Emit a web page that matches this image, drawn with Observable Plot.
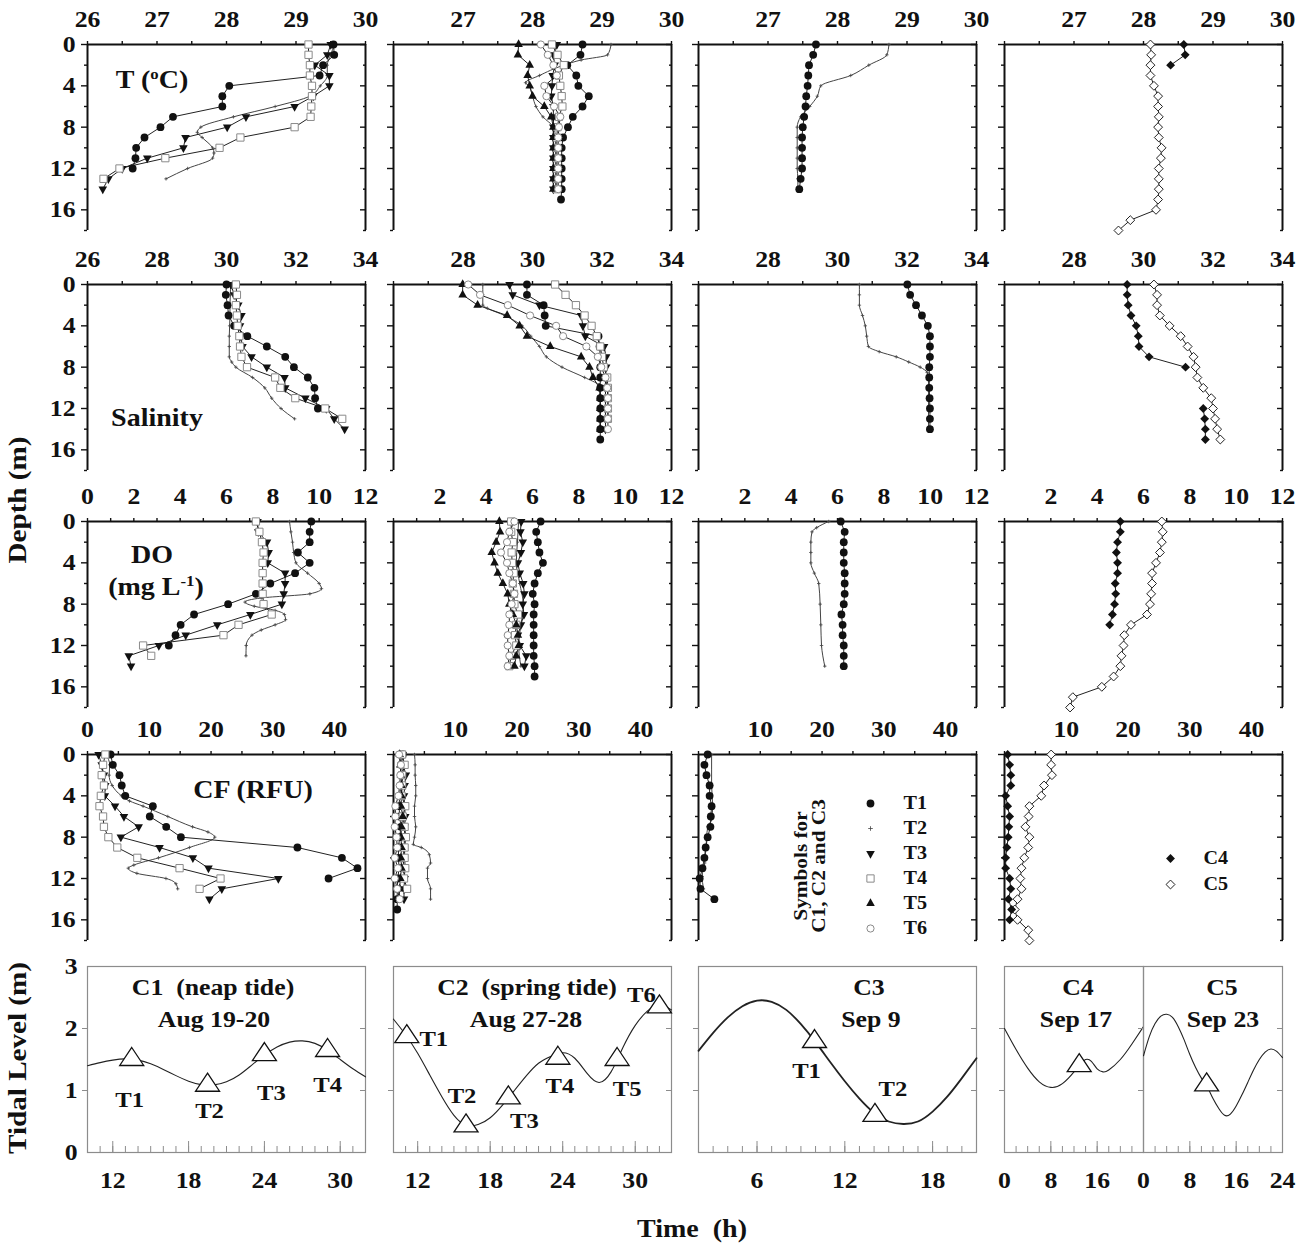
<!DOCTYPE html>
<html>
<head>
<meta charset="utf-8">
<script src="https://cdn.jsdelivr.net/npm/d3@7"></script>
<script src="https://cdn.jsdelivr.net/npm/@observablehq/plot@0.6"></script>
<style>
  html, body { margin:0; padding:0; background:#fff; }
  #fig { position:relative; width:1303px; height:1243px; overflow:hidden; background:#fff;
         font-family:"Liberation Serif","Times New Roman",serif; font-weight:bold; color:#111; }
  .lbl { position:absolute; white-space:pre; line-height:1; }
  .lbl sup { font-size:0.6em; vertical-align:0.6em; line-height:0; }
</style>
</head>
<body>
<div id="fig"></div>
<script>
// ===================== DATA =====================
// ---- Row 1: Temperature (°C); index = depth (m) unless a depth array is given ----
const tempC1T1 = [29.54,29.55,29.39,29.34,28.04,27.94,27.94,27.23,27.05,26.82,26.70,26.69,26.65];
const tempC1T2Depth = [0,1,2,3,4,5,6,7,8,8.5,9,10,10.5,11,12,13];
const tempC1T2 = [29.55,29.5,29.45,29.45,29.35,29.2,28.7,28.1,27.63,27.58,27.65,27.8,27.82,27.8,27.44,27.13];
const tempC1T3 = [29.5,29.45,29.27,29.48,29.48,29.25,28.98,28.28,28.01,27.41,27.38,26.86,26.5,26.3,26.22];
const tempC1T4 = [29.18,29.18,29.2,29.2,29.23,29.23,29.22,29.21,28.98,28.2,27.9,27.12,26.46,26.23];

const tempC2T1 = [28.72,28.69,28.5,28.63,28.66,28.81,28.72,28.58,28.51,28.44,28.42,28.42,28.42,28.42,28.42,28.41];
const tempC2T2Depth = [0,1,1.5,2,3,3.7,4,5,6,7,8,9,10,11,12,13,14];
const tempC2T2 = [29.13,29.08,28.7,28.45,28.1,27.9,27.95,28.0,28.05,28.15,28.3,28.33,28.33,28.33,28.33,28.33,28.33];
const tempC2T3 = [28.35,28.3,28.32,28.29,28.28,28.27,28.3,28.3,28.3,28.3,28.3,28.3,28.3,28.3,28.3];
const tempC2T4 = [28.28,28.36,28.45,28.38,28.4,28.42,28.43,28.38,28.36,28.35,28.35,28.35,28.35,28.35,28.35];
const tempC2T5 = [27.8,27.79,27.96,27.93,27.96,28.0,28.17,28.27,28.3,28.3,28.3,28.3,28.3,28.3,28.3];
const tempC2T6 = [28.12,28.22,28.3,28.35,28.17,28.2,28.31,28.4,28.38,28.37,28.37,28.37,28.37,28.37,28.37];

const tempC3T1 = [27.69,27.65,27.59,27.58,27.57,27.55,27.54,27.52,27.5,27.49,27.49,27.49,27.49,27.47,27.45];
const tempC3T2Depth = [0,1,2,3,4,5,6,7,8,9,10,11,12,13,14];
const tempC3T2 = [28.74,28.71,28.45,28.19,27.76,27.71,27.6,27.47,27.42,27.42,27.42,27.42,27.42,27.43,27.43];

const tempC4 = [28.58,28.6,28.39];
const tempC5 = [28.1,28.11,28.1,28.1,28.15,28.21,28.21,28.22,28.21,28.22,28.26,28.25,28.22,28.22,28.22,28.21,28.18,27.81,27.64];

// ---- Row 2: Salinity ----
const salC1T1 = [30.0,29.98,30.03,30.06,30.22,30.6,31.16,31.69,31.94,32.34,32.53,32.55,32.63];
const salC1T2Depth = [0,1,2,3,4,5,6,7,7.5,8,9,10,11,12,13];
const salC1T2 = [30.12,30.11,30.1,30.1,30.09,30.08,30.08,30.08,30.15,30.27,30.75,31.1,31.3,31.57,31.96];
const salC1T3 = [30.13,30.22,30.34,30.43,30.39,30.41,30.46,30.72,31.16,31.67,31.69,32.27,32.87,33.1,33.4];
const salC1T4 = [30.27,30.3,30.27,30.3,30.32,30.37,30.39,30.43,30.59,31.4,31.55,31.98,32.84,33.33];

const salC2T1 = [29.84,29.84,30.32,30.35,30.38,31.9,31.93,31.95,31.95,31.95,31.95,31.95,31.95,31.95,31.95,31.95];
const salC2T2Depth = [0,1,2,2.3,3,4,5,6,7,8,9,9.7,10,11,12,13,14];
const salC2T2 = [28.57,28.57,28.57,28.7,29.2,29.7,29.95,30.2,30.4,30.85,31.5,31.9,31.95,31.95,31.95,31.95,31.95];
const salC2T3 = [29.34,29.43,30.2,31.4,31.45,31.52,32.06,32.12,32.12,32.1,32.1,32.1,32.1,32.1,32.1];
const salC2T4 = [30.65,30.95,31.25,31.5,31.7,31.85,31.95,32.0,32.05,32.15,32.17,32.17,32.17,32.17];
const salC2T5 = [27.99,27.99,28.42,29.27,29.63,29.84,30.51,31.4,31.64,31.74,31.93,31.95,31.95,31.95,31.95];
const salC2T6 = [28.15,28.49,29.29,29.93,30.68,30.88,31.55,31.88,31.98,32.1,32.15,32.17,32.17,32.17,32.17];

const salC3T1 = [32.01,32.09,32.26,32.43,32.6,32.66,32.66,32.66,32.64,32.64,32.64,32.65,32.66,32.66,32.66];
const salC3T2Depth = [0,1,2,3,4,5,6,6.5,7,7.5,8,8.5,9,10,11,12,13,14];
const salC3T2 = [30.63,30.63,30.63,30.72,30.8,30.84,30.89,31.2,31.69,32.05,32.38,32.58,32.62,32.62,32.62,32.62,32.62,32.62];

const salC4 = [29.53,29.53,29.56,29.64,29.79,29.85,29.87,30.16,31.21,null,null,null,31.72,31.76,31.78,31.78];
const salC5 = [30.3,30.39,30.39,30.47,30.75,31.07,31.27,31.44,31.5,31.55,31.72,31.95,32.0,32.06,32.12,32.21];

// ---- Row 3: DO (mg/L) ----
const doC1T1 = [9.66,9.59,9.59,9.08,9.59,8.96,7.89,7.27,6.07,4.6,4.02,3.8,3.51];
const doC1T2Depth = [0,1,2,3,4,5,6,6.5,7,7.4,7.8,8.2,8.6,9,9.5,10,10.5,11,12,13];
const doC1T2 = [8.72,8.78,8.85,8.9,9.0,9.5,10.0,10.1,9.6,7.5,6.8,7.2,8.1,8.5,8.55,8.1,7.5,7.1,6.85,6.84];
const doC1T3 = [7.34,7.37,7.75,7.82,7.78,8.53,8.53,8.47,8.39,7.03,5.6,4.24,3.08,1.78,1.88];
const doC1T4 = [7.27,7.42,7.53,7.6,7.56,7.56,7.56,7.56,7.6,7.95,6.52,5.87,2.4,2.75];

const doC2T1 = [6.35,6.16,6.23,6.3,6.45,6.23,6.09,6.01,6.09,6.05,6.05,6.05,6.05,6.05,6.09,6.09];
const doC2T2Depth = [0,2,4,6,8,10,12,14];
const doC2T2 = [5.4,5.35,5.3,5.45,5.6,5.5,5.4,5.5];
const doC2T3 = [5.51,5.48,5.58,5.5,5.37,5.45,5.6,5.65,5.58,5.63,5.5,5.37,5.45,5.73,5.65];
const doC2T4 = [5.08,5.08,5.15,5.1,5.12,5.19,5.15,5.2,5.22,5.37,5.3,5.25,5.3,5.08,5.0];
const doC2T5 = [4.57,4.6,4.43,4.24,4.36,4.5,4.72,4.93,5.0,5.15,5.3,5.37,5.41,5.3,5.22];
const doC2T6 = [5.22,5.0,4.9,4.64,4.9,5.0,5.15,5.22,5.1,5.0,5.0,4.93,4.93,5.0,4.93];

const doC3T1 = [6.14,6.31,6.27,6.27,6.27,6.31,6.31,6.31,6.27,6.17,6.22,6.22,6.27,6.27,6.27];
const doC3T2Depth = [0,0.6,1,2,3,4,5,6,8,10,12,14];
const doC3T2 = [5.62,5.1,4.9,4.85,4.85,4.85,5.0,5.19,5.25,5.28,5.31,5.45];

const doC4 = [5.0,5.0,4.88,4.83,4.88,4.88,4.78,4.8,4.75,4.66,4.54];
const doC5 = [6.79,6.83,6.79,6.71,6.54,6.37,6.37,6.33,6.28,6.15,5.46,5.17,5.14,5.05,5.0,4.71,4.2,2.95,2.83];

// ---- Row 4: CF (RFU) ----
const cfC1T1 = [3.74,4.1,5.18,5.54,6.12,10.58,10.08,12.74,15.12,33.98,41.18,43.7,39.02];
const cfC1T2Depth = [0,1,2,3,4,4.5,5,6,7,7.5,8,9,10,10.7,11,11.5,12,12.5,13];
const cfC1T2 = [3.0,3.6,3.5,4.0,5.5,6.8,9.0,13.0,17.0,19.5,20.6,16.5,11.5,7.5,6.6,8.0,12.7,14.3,14.6];
const cfC1T3 = [1.8,2.3,2.66,2.88,2.8,4.46,5.9,8.28,5.4,11.66,17.06,19.58,30.89,21.74,19.73];
const cfC1T4 = [2.88,2.52,2.3,2.66,2.16,1.94,2.52,2.66,3.38,4.82,8.06,14.9,21.53,18.14];

const cfC2T1 = [1.5,1.2,1.6,1.2,1.0,0.9,1.0,1.2,1.0,0.8,0.8,0.9,0.7,0.6,0.6,0.6];
const cfC2T2Depth = [0,1,2,3,4,5,6,7,8,8.7,9,9.7,10.5,11,12,13,14];
const cfC2T2 = [3.4,3.5,3.5,3.6,3.6,3.4,3.4,3.6,3.4,3.2,4.5,5.8,6.0,5.5,5.5,6.0,6.0];
const cfC2T3 = [1.5,1.6,2.0,1.8,1.7,1.8,1.9,1.8,1.8,1.7,1.6,1.6,1.8,1.7,1.7];
const cfC2T4 = [1.4,1.8,1.4,1.4,1.3,1.9,1.5,1.8,2.0,1.8,1.8,1.9,1.7,2.2];
const cfC2T5 = [1.0,1.1,1.2,1.3,1.3,1.2,1.5,1.3,1.2,1.3,1.2,1.3,1.1,1.0,0.9];
const cfC2T6 = [0.9,1.2,1.1,1.0,0.8,0.3,0.3,0.2,0.5,0.6,0.2,0.7,0.2,0.6,1.0];

const cfC3T1 = [1.48,0.96,1.29,1.8,1.8,2.12,1.99,1.93,1.48,1.16,0.96,0.64,0.19,0.32,2.57];
const cfC3T2Depth = [0,3,5,6.3,7,9,10.5,11.8,13];
const cfC3T2 = [2.12,2.12,2.3,2.1,1.5,1.2,1.0,0.6,0.8];

const cfC4 = [0.51,0.83,1.02,1.02,0.19,0.51,0.83,0.7,0.6,0.38,0.19,0.19,0.83,1.02,0.64,1.15,0.83];
const cfC5 = [7.55,7.55,7.68,6.4,5.95,4.03,3.91,3.39,4.03,3.84,3.2,2.75,2.56,2.75,2.11,1.66,2.11,3.84,4.03];

// ---- Row 5: tidal level (m) vs time (h) ----
const tideC1Time  = [10,11,12,13,14,15,16,17,18,19,20,21,22,23,24,25,26,27,28,29,30,31,32];
const tideC1Level = [1.40,1.45,1.49,1.51,1.49,1.43,1.34,1.24,1.15,1.095,1.09,1.14,1.25,1.41,1.57,1.70,1.78,1.80,1.76,1.65,1.50,1.35,1.22];
const sampC1Time  = [13.5,19.5,24,29];
const sampC1Level = [1.50,1.085,1.58,1.645];
const sampC1Name  = ["T1","T2","T3","T4"];

const tideC2Time  = [10,11,12,13,14,15,16,17,18,19,20,21,22,23,24,25,26,27,28,29,30,31,32,33];
const tideC2Level = [2.15,1.9,1.6,1.25,0.9,0.6,0.44,0.45,0.56,0.76,1.0,1.24,1.44,1.55,1.61,1.52,1.28,1.13,1.3,1.7,2.05,2.28,2.38,2.3];
const sampC2Time  = [11.1,16,19.5,23.6,28.5,32];
const sampC2Level = [1.87,0.43,0.88,1.52,1.5,2.35];
const sampC2Name  = ["T1","T2","T3","T4","T5","T6"];

const tideC3Time  = [2,3,4,5,6,7,8,9,10,11,12,13,14,15,16,17,18,19,20,21];
const tideC3Level = [1.64,1.93,2.18,2.36,2.45,2.43,2.3,2.07,1.78,1.46,1.15,0.87,0.64,0.5,0.46,0.5,0.66,0.9,1.2,1.52];
const sampC3Time  = [9.93,14.06];
const sampC3Level = [1.79,0.6];
const sampC3Name  = ["T1","T2"];

const tideC4Time  = [0,2,4,6,8,10,12,13,14,15,16,17,18,20,22,24];
const tideC4Level = [2.0,1.66,1.36,1.14,1.05,1.11,1.3,1.42,1.5,1.47,1.35,1.3,1.33,1.5,1.75,2.03];
const sampC4Time  = [12.9];
const sampC4Level = [1.4];

const tideC5Time  = [0,1,2,3,4,5,6,7,8,9,10,11,12,13,14,15,16,17,18,19,20,21,22,23,24];
const tideC5Level = [1.56,1.87,2.08,2.2,2.23,2.18,2.03,1.82,1.58,1.37,1.2,1.06,0.87,0.71,0.6,0.62,0.75,0.93,1.13,1.33,1.5,1.62,1.67,1.63,1.53];
const sampC5Time  = [10.9];
const sampC5Level = [1.09];

// Tick labels
const tempTicks = [26,27,28,29,30], tempMinor = [26.5,27.5,28.5,29.5];
const salTicks  = [26,28,30,32,34], salMinor  = [27,29,31,33];
const doTicks   = [0,2,4,6,8,10,12], doMinor  = [1,3,5,7,9,11];
const cfTicks   = [0,10,20,30,40], cfMinor    = [5,15,25,35,45];
const depthTicks = [0,4,8,12,16], depthMinor = [2,6,10,14,18];
const tideYTicks = [0,1,2,3];
const legendNames = ["T1","T2","T3","T4","T5","T6"];
const legendCNames = ["C4","C5"];

// ===================== LAYOUT / STYLE =====================
const S = 1.12;   // horizontal text stretch of the original figure
const FONT = '"Liberation Serif","Times New Roman",serif';
const fig = document.getElementById("fig");
const COLS = [87.3, 392.7, 698.1, 1003.5];
const PW = 278, PH = 186;
const ROWS = [
  {top: 44.3,  domain: [26,30], major: tempTicks, minor: tempMinor},
  {top: 284.3, domain: [26,34], major: salTicks,  minor: salMinor},
  {top: 520.7, domain: [0,12],  major: doTicks,   minor: doMinor},
  {top: 754.3, domain: [0,45],  major: cfTicks,   minor: cfMinor}
];

function tri(down, hw, h) {
  return {draw(ctx, size) {
    const r = Math.sqrt(size / Math.PI), w = hw * r, H = h * r;
    if (down) { ctx.moveTo(0, 2*H/3); ctx.lineTo(w, -H/3); ctx.lineTo(-w, -H/3); }
    else { ctx.moveTo(0, -2*H/3); ctx.lineTo(w, H/3); ctx.lineTo(-w, H/3); }
    ctx.closePath();
  }};
}
const TRI_UP = tri(false, 1.1, 2.0), TRI_DOWN = tri(true, 1.1, 2.0), TRI_BIG = tri(false, 1.5, 2.25);

const STY = {
  T1: {symbol: "circle", r: 3.9, fill: "#111", stroke: "none"},
  T2: {symbol: "plus", r: 1.2, fill: "none", stroke: "#444", strokeWidth: 0.8},
  T3: {symbol: TRI_DOWN, r: 3.9, fill: "#111", stroke: "none"},
  T4: {symbol: "square", r: 4.1, fill: "white", stroke: "#8a8a8a", strokeWidth: 1},
  T5: {symbol: TRI_UP, r: 3.9, fill: "#111", stroke: "none"},
  T6: {symbol: "circle", r: 3.6, fill: "white", stroke: "#8a8a8a", strokeWidth: 1},
  C4: {symbol: "diamond2", r: 4.0, fill: "#111", stroke: "none"},
  C5: {symbol: "diamond2", r: 4.0, fill: "white", stroke: "#222", strokeWidth: 1}
};

function place(svg, left, top) {
  svg.style.position = "absolute";
  svg.style.left = left + "px";
  svg.style.top = top + "px";
  svg.querySelectorAll("text").forEach(t => {
    const tr = t.getAttribute("transform");
    if (tr) t.setAttribute("transform", tr + ` scale(${S},1)`);
    else {
      const x = +(t.getAttribute("x") || 0);
      t.setAttribute("transform", `translate(${x},0) scale(${S},1) translate(${-x},0)`);
    }
  });
  fig.appendChild(svg);
}

function label(html, cx, cy, size, rotate) {
  const el = document.createElement("div");
  el.className = "lbl";
  el.innerHTML = html;
  el.style.fontSize = size + "px";
  el.style.left = cx + "px";
  el.style.top = cy + "px";
  el.style.transform = `translate(-50%,-50%)${rotate ? " rotate(-90deg)" : ""} scaleX(${S})`;
  fig.appendChild(el);
}

const baseStyle = (fs) => ({background: "transparent", overflow: "visible", fontFamily: FONT,
  fontSize: fs + "px", fontWeight: "bold", color: "#111"});

// ===================== PROFILE PANELS =====================
function profile(row, col, series) {
  const R = ROWS[row];
  const mL = 70, mR = 14, mT = 48, mB = 10;
  const marks = [
    Plot.ruleY([0], {stroke: "#111", strokeWidth: 2}),
    Plot.ruleX(R.domain, {y1: 0, y2: 18, stroke: "#111", strokeWidth: 2}),
    Plot.axisX({anchor: "top", ticks: R.major, tickSize: 4, tickPadding: 14, strokeWidth: 1.4, label: null, fontSize: 23,
      tickFormat: d => (col > 0 && d === R.domain[0]) ? "" : String(d)}),
    Plot.axisX({anchor: "top", ticks: R.minor, tickSize: 4, strokeWidth: 1.4, label: null, tickFormat: () => ""}),
    Plot.axisY({anchor: "left", ticks: depthTicks, tickSize: 6, tickPadding: 6, strokeWidth: 1.4, label: null, fontSize: 23,
      tickFormat: col === 0 ? (d => String(d)) : (() => "")}),
    Plot.axisY({anchor: "left", ticks: depthMinor, tickSize: 3, strokeWidth: 1.4, label: null, tickFormat: () => ""}),
    Plot.axisY({anchor: "right", ticks: depthTicks, tickSize: 6, dx: -6, strokeWidth: 1.4, label: null, tickFormat: () => ""}),
    Plot.axisY({anchor: "right", ticks: depthMinor, tickSize: 3, dx: -3, strokeWidth: 1.4, label: null, tickFormat: () => ""})
  ];
  const sets = series.map(([name, vals, deps]) => [name, vals.map((v, i) => ({v, d: deps ? deps[i] : i}))]);
  for (const [name, data] of sets) {
    marks.push(Plot.line(data, {x: "v", y: "d", stroke: name === "T2" ? "#444" : "#222",
      strokeWidth: 1, curve: name === "T2" ? "monotone-y" : "linear"}));
  }
  for (const [name, data] of sets) {
    marks.push(Plot.dot(data, {x: "v", y: "d", ...STY[name]}));
  }
  const svg = Plot.plot({
    width: mL + PW + mR, height: mT + PH + mB,
    marginLeft: mL, marginRight: mR, marginTop: mT, marginBottom: mB,
    x: {domain: R.domain}, y: {domain: [0, 18], reverse: true},
    style: baseStyle(22), marks
  });
  place(svg, COLS[col] - mL, R.top - mT);
}

profile(0, 0, [["T2", tempC1T2, tempC1T2Depth], ["T1", tempC1T1], ["T3", tempC1T3], ["T4", tempC1T4]]);
profile(0, 1, [["T2", tempC2T2, tempC2T2Depth], ["T1", tempC2T1], ["T3", tempC2T3], ["T4", tempC2T4], ["T5", tempC2T5], ["T6", tempC2T6]]);
profile(0, 2, [["T2", tempC3T2, tempC3T2Depth], ["T1", tempC3T1]]);
profile(0, 3, [["C5", tempC5], ["C4", tempC4]]);

profile(1, 0, [["T2", salC1T2, salC1T2Depth], ["T1", salC1T1], ["T3", salC1T3], ["T4", salC1T4]]);
profile(1, 1, [["T2", salC2T2, salC2T2Depth], ["T1", salC2T1], ["T3", salC2T3], ["T4", salC2T4], ["T5", salC2T5], ["T6", salC2T6]]);
profile(1, 2, [["T2", salC3T2, salC3T2Depth], ["T1", salC3T1]]);
profile(1, 3, [["C5", salC5], ["C4", salC4]]);

profile(2, 0, [["T2", doC1T2, doC1T2Depth], ["T1", doC1T1], ["T3", doC1T3], ["T4", doC1T4]]);
profile(2, 1, [["T2", doC2T2, doC2T2Depth], ["T1", doC2T1], ["T3", doC2T3], ["T4", doC2T4], ["T5", doC2T5], ["T6", doC2T6]]);
profile(2, 2, [["T2", doC3T2, doC3T2Depth], ["T1", doC3T1]]);
profile(2, 3, [["C5", doC5], ["C4", doC4]]);

profile(3, 0, [["T2", cfC1T2, cfC1T2Depth], ["T1", cfC1T1], ["T3", cfC1T3], ["T4", cfC1T4]]);
profile(3, 1, [["T2", cfC2T2, cfC2T2Depth], ["T1", cfC2T1], ["T3", cfC2T3], ["T4", cfC2T4], ["T5", cfC2T5], ["T6", cfC2T6]]);
profile(3, 2, [["T2", cfC3T2, cfC3T2Depth], ["T1", cfC3T1]]);
profile(3, 3, [["C5", cfC5], ["C4", cfC4]]);

// ===================== LEGENDS =====================
function legendPlot(names, left, top, step) {
  const mT = 10, mB = 10, mL = 12;
  const svg = Plot.plot({
    width: 100, height: mT + mB + step * (names.length - 1),
    marginLeft: mL, marginRight: 10, marginTop: mT, marginBottom: mB,
    y: {type: "point", domain: names, padding: 0, axis: null},
    style: baseStyle(18),
    marks: [
      ...names.map(n => Plot.dot([n], {y: d => d, frameAnchor: "left", ...STY[n],
        r: n === "T2" ? 1.6 : STY[n].r})),
      Plot.text(names, {y: d => d, text: d => d, frameAnchor: "left", dx: 33, textAnchor: "start", fontSize: 18})
    ]
  });
  place(svg, left - mL, top - mT);
}
legendPlot(legendNames, 869.5, 801.7, 25.5);
legendPlot(legendCNames, 1170, 858, 26);

// ===================== TIDAL PANELS =====================
const labelOffsets = {
  C1: [[-2, 40], [2, 26], [7, 38], [0, 34]],
  C2: [[27, 2], [-4, -30], [16, 23], [2, 28], [10, 29], [-18, -12]],
  C3: [[-8, 29], [18, -26]]
};
function tide(cfg) {
  const {left, width, domain, minor, major, labels, time, level, sTime, sLevel, sName, offsets, yLabels, bold} = cfg;
  const mL = 40, mR = 10, mT = 10, mB = 45;
  const gray = "#8c8c8c";
  const marks = [
    Plot.frame({stroke: gray, strokeWidth: 1.2}),
    Plot.axisX({anchor: "bottom", ticks: minor, tickSize: 6, dy: -6, stroke: gray, tickFormat: () => "", label: null}),
    Plot.axisX({anchor: "bottom", ticks: major, tickSize: 11, dy: -11, stroke: gray, tickFormat: () => "", label: null}),
    Plot.axisX({anchor: "bottom", ticks: labels, tickSize: 0, tickPadding: 19, label: null, tickFormat: d => String(d)}),
    Plot.axisY({anchor: "left", ticks: [1, 2], tickSize: 5, stroke: gray, tickFormat: () => "", label: null}),
    Plot.axisY({anchor: "right", ticks: [1, 2], tickSize: 6, dx: -6, stroke: gray, tickFormat: () => "", label: null})
  ];
  if (yLabels) marks.push(Plot.axisY({anchor: "left", ticks: tideYTicks, tickSize: 0, tickPadding: 10, label: null,
    tickFormat: d => String(d)}));
  marks.push(Plot.line(time.map((t, i) => ({t, l: level[i]})), {x: "t", y: "l", curve: "natural",
    stroke: "#222", strokeWidth: bold ? 1.8 : 1.1}));
  const samples = sTime.map((t, i) => ({t, l: sLevel[i], n: sName ? sName[i] : ""}));
  marks.push(Plot.dot(samples, {x: "t", y: "l", symbol: TRI_BIG, r: 8, fill: "white", stroke: "#111", strokeWidth: 1.3}));
  if (sName && offsets) {
    samples.forEach((s, i) => marks.push(Plot.text([s], {x: "t", y: "l", text: "n",
      dx: offsets[i][0], dy: offsets[i][1], fontSize: 22})));
  }
  const svg = Plot.plot({
    width: mL + width + mR, height: mT + PH + mB,
    marginLeft: mL, marginRight: mR, marginTop: mT, marginBottom: mB,
    x: {domain}, y: {domain: [0, 3]},
    style: baseStyle(23), marks
  });
  place(svg, left - mL, 965.7 - mT);
}
tide({left: COLS[0], width: PW, domain: [10, 32], minor: d3.range(10, 33), major: [12, 18, 24, 30], labels: [12, 18, 24, 30],
  time: tideC1Time, level: tideC1Level, sTime: sampC1Time, sLevel: sampC1Level, sName: sampC1Name, offsets: labelOffsets.C1, yLabels: true});
tide({left: COLS[1], width: PW, domain: [10, 33], minor: d3.range(10, 34), major: [12, 18, 24, 30], labels: [12, 18, 24, 30],
  time: tideC2Time, level: tideC2Level, sTime: sampC2Time, sLevel: sampC2Level, sName: sampC2Name, offsets: labelOffsets.C2});
tide({left: COLS[2], width: PW, domain: [2, 21], minor: d3.range(2, 22), major: [6, 12, 18], labels: [6, 12, 18],
  time: tideC3Time, level: tideC3Level, sTime: sampC3Time, sLevel: sampC3Level, sName: sampC3Name, offsets: labelOffsets.C3, bold: true});
tide({left: COLS[3], width: PW / 2, domain: [0, 24], minor: d3.range(0, 25, 2), major: [0, 8, 16, 24], labels: [0, 8, 16],
  time: tideC4Time, level: tideC4Level, sTime: sampC4Time, sLevel: sampC4Level});
tide({left: COLS[3] + PW / 2, width: PW / 2, domain: [0, 24], minor: d3.range(0, 25, 2), major: [0, 8, 16, 24], labels: [0, 8, 16, 24],
  time: tideC5Time, level: tideC5Level, sTime: sampC5Time, sLevel: sampC5Level});

// ===================== TEXT LABELS =====================
label("T (<sup>o</sup>C)", 152, 79, 25);
label("Salinity", 157, 417, 25);
label("DO", 152, 554, 25);
label("(mg L<sup>-1</sup>)", 156, 586, 25);
label("CF (RFU)", 253, 789, 25);
label("Depth (m)", 18, 500, 26, true);
label("Tidal Level (m)", 18, 1058, 26, true);
label("Time  (h)", 692, 1228, 25);
label("Symbols for", 800, 866, 19, true);
label("C1, C2 and C3", 818, 866, 19, true);
label("C1  (neap tide)", 213, 987, 23);
label("Aug 19-20", 214, 1019, 23);
label("C2  (spring tide)", 527, 987, 23);
label("Aug 27-28", 526, 1019, 23);
label("C3", 869, 987, 23);
label("Sep 9", 871, 1019, 23);
label("C4", 1078, 987, 23);
label("Sep 17", 1076, 1019, 23);
label("C5", 1222, 987, 23);
label("Sep 23", 1223, 1019, 23);
</script>
</body>
</html>
